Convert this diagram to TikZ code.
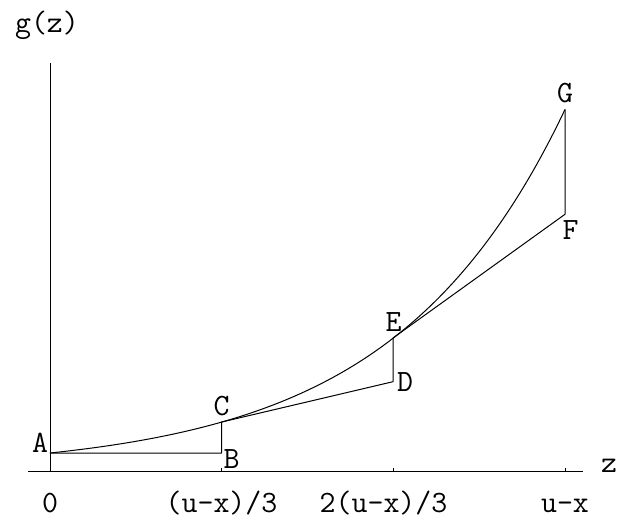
\documentclass[tikz,border=0pt]{standalone}
\usepackage{fontspec}
\usetikzlibrary{positioning, calc}

\begin{document}
\begin{tikzpicture}[
        x=1pt, y=1pt,
        eixo/.style={line width=0.8pt},
        linha/.style={line width=1pt, line join=round},
        rotulo/.style={font=\fontsize{31}{34}\selectfont\ttfamily, inner sep=0pt, anchor=base}
    ]
    \useasboundingbox (-50,-51) rectangle (568,471);

    % Eixos
    \coordinate (o) at (0,0);
    \coordinate (ytop) at (0,408);
    \coordinate (xleft) at (-22,0);
    \coordinate (xright) at (533,0);
    \draw[eixo] (o) -- (ytop);
    \draw[eixo] (xleft) -- (xright);
    \foreach \t in {171.5, 343, 515}
        \draw[eixo] (\t,0) -- (\t,3);

    % Pontos
    \coordinate (A) at (0,18);
    \coordinate (B) at (171.5,18);
    \coordinate (C) at (171.5,{18*exp(1)});
    \coordinate (D) at (343,89.3);
    \coordinate (E) at (343,{18*exp(2)});
    \coordinate (F) at (515,256.7);
    \coordinate (G) at (515,{18*exp(3)});

    % Curva e aproximacao
    \draw[linha] plot[domain=0:515, samples=80, smooth] (\x, {18*exp(3*\x/515)});
    \draw[linha] (A) -- (B) -- (C) -- (D) -- (E) -- (F) -- (G);

    % Rotulos
    \node[rotulo] (lA) at (-10,19) {A};
    \node[rotulo] (lB) at (181.5,3) {B};
    \node[rotulo] (lC) at (171.5,56) {C};
    \node[rotulo] (lD) at (355,79) {D};
    \node[rotulo] (lE) at (343.5,139) {E};
    \node[rotulo] (lF) at (520.5,231) {F};
    \node[rotulo] (lG) at (515,368) {G};

    \node[rotulo] (gz) at (-3,438) {g(z)};
    \node[rotulo] (lz) at (559,-1) {z};
    \node[rotulo] (t0) at (0,-41) {0};
    \node[rotulo] (t1) at (171.5,-41) {(u-x)/3};
    \node[rotulo] (t2) at (333.5,-41) {2(u-x)/3};
    \node[rotulo] (t3) at (515,-41) {u-x};

\end{tikzpicture}
\end{document}
